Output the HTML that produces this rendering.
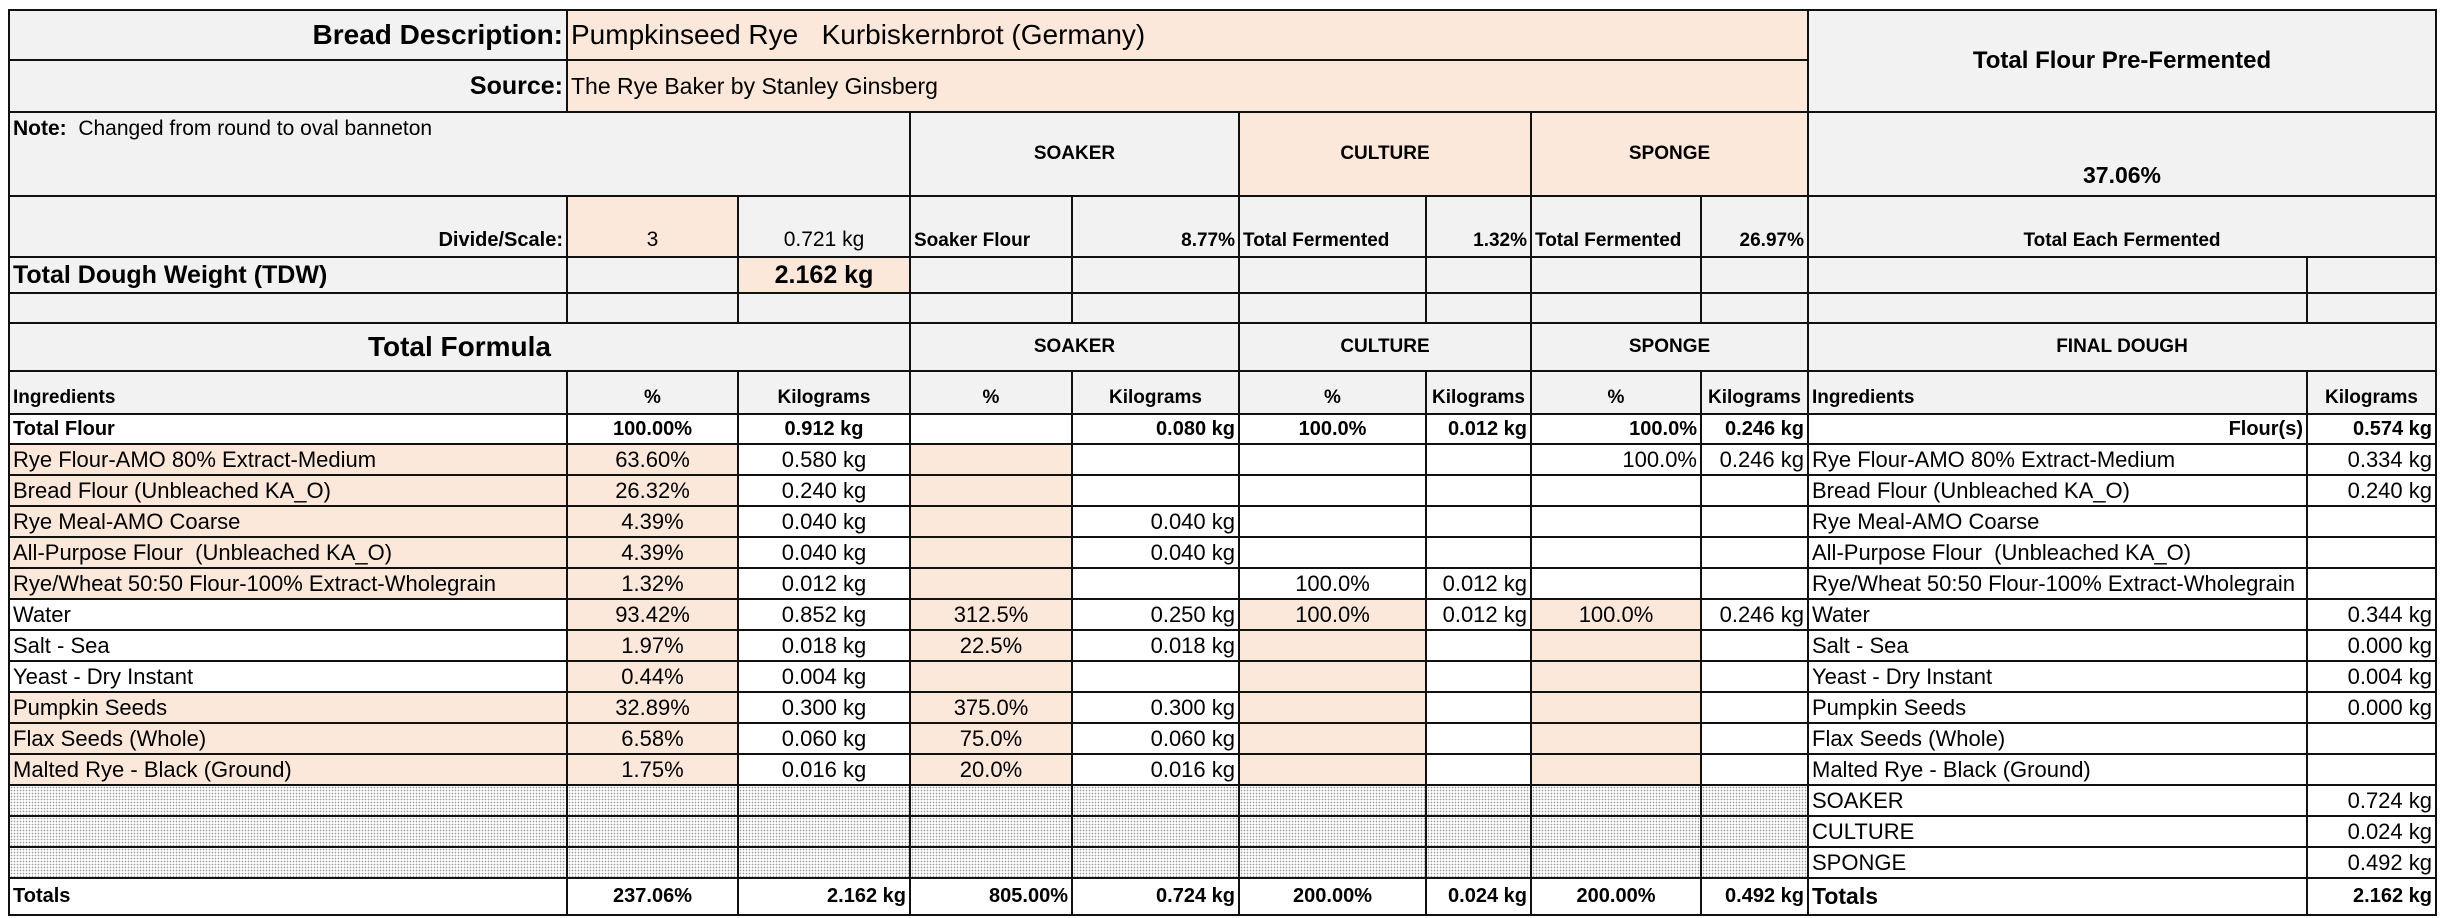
<!DOCTYPE html>
<html><head><meta charset="utf-8"><style>
html,body{margin:0;padding:0;background:#fff;width:2440px;height:918px;overflow:hidden}
table{position:absolute;left:8px;top:9px;border-collapse:collapse;table-layout:fixed;font-family:"Liberation Sans",sans-serif;font-size:22px;color:#000}
td{border:2px solid #111;padding:0 3px;white-space:nowrap;overflow:hidden;background:#fff}
.g{background:#f2f2f2}.p{background:#fce8da}
.b{font-weight:bold}.c{text-align:center}.r{text-align:right}.l{text-align:left}
.bt{vertical-align:bottom;padding-bottom:4px}
.d{background-color:#fff;background-image:radial-gradient(#9a9a9a 0.7px,transparent 0.9px);background-size:3px 3px}
.h td{font-size:19px}
.t td{font-size:20px}
</style></head><body>
<table>
<colgroup><col style="width:558px"><col style="width:171px"><col style="width:172px"><col style="width:162px"><col style="width:167px"><col style="width:187px"><col style="width:105px"><col style="width:170px"><col style="width:107px"><col style="width:499px"><col style="width:129px"></colgroup>
<tr style="height:50px"><td class="g b r" style="font-size:28px">Bread Description:</td><td class="p" colspan="8" style="font-size:28px">Pumpkinseed Rye&nbsp;&nbsp; Kurbiskernbrot (Germany)</td><td class="g b c" colspan="2" rowspan="2" style="font-size:24px">Total Flour Pre-Fermented</td></tr>
<tr style="height:52px"><td class="g b r" style="font-size:25px">Source:</td><td class="p" colspan="8" style="font-size:23px">The Rye Baker by Stanley Ginsberg</td></tr>
<tr style="height:84px"><td class="g" colspan="3" style="vertical-align:top;padding-top:4px;font-size:21px"><b>Note:</b>&nbsp; Changed from round to oval banneton</td><td class="g b c" colspan="2" style="font-size:19px">SOAKER</td><td class="p b c" colspan="2" style="font-size:19px">CULTURE</td><td class="p b c" colspan="2" style="font-size:19px">SPONGE</td><td class="g b c bt" colspan="2" style="font-size:23px;padding-bottom:6px">37.06%</td></tr>
<tr style="height:61px" class="h"><td class="g b r bt" style="font-size:20px">Divide/Scale:</td><td class="p c bt" style="font-size:21px">3</td><td class="g c bt" style="font-size:21px">0.721 kg</td><td class="g b l bt">Soaker Flour</td><td class="g b r bt">8.77%</td><td class="g b l bt">Total Fermented</td><td class="g b r bt">1.32%</td><td class="g b l bt">Total Fermented</td><td class="g b r bt">26.97%</td><td class="g b c bt" colspan="2">Total Each Fermented</td></tr>
<tr style="height:36px"><td class="g b" style="font-size:25px">Total Dough Weight (TDW)</td><td class="g"></td><td class="p b c" style="font-size:25px">2.162 kg</td><td class="g"></td><td class="g"></td><td class="g"></td><td class="g"></td><td class="g"></td><td class="g"></td><td class="g"></td><td class="g"></td></tr>
<tr style="height:30px"><td class="g"></td><td class="g"></td><td class="g"></td><td class="g"></td><td class="g"></td><td class="g"></td><td class="g"></td><td class="g"></td><td class="g"></td><td class="g"></td><td class="g"></td></tr>
<tr style="height:48px"><td class="g b c" colspan="3" style="font-size:28px">Total Formula</td><td class="g b c" colspan="2" style="font-size:19px">SOAKER</td><td class="g b c" colspan="2" style="font-size:19px">CULTURE</td><td class="g b c" colspan="2" style="font-size:19px">SPONGE</td><td class="g b c" colspan="2" style="font-size:19px">FINAL DOUGH</td></tr>
<tr style="height:43px" class="h"><td class="g b bt">Ingredients</td><td class="g b c bt">%</td><td class="g b c bt">Kilograms</td><td class="g b c bt">%</td><td class="g b c bt">Kilograms</td><td class="g b c bt">%</td><td class="g b c bt">Kilograms</td><td class="g b c bt">%</td><td class="g b c bt">Kilograms</td><td class="g b l bt">Ingredients</td><td class="g b c bt">Kilograms</td></tr>
<tr style="height:30px" class="b t"><td>Total Flour</td><td class="c">100.00%</td><td class="c">0.912 kg</td><td></td><td class="r">0.080 kg</td><td class="c">100.0%</td><td class="r">0.012 kg</td><td class="r">100.0%</td><td class="r">0.246 kg</td><td class="r">Flour(s)</td><td class="r">0.574 kg</td></tr>
<tr style="height:31px"><td class="p">Rye Flour-AMO 80% Extract-Medium</td><td class="p c">63.60%</td><td class="c">0.580 kg</td><td class="p"></td><td></td><td></td><td></td><td class="r">100.0%</td><td class="r">0.246 kg</td><td>Rye Flour-AMO 80% Extract-Medium</td><td class="r">0.334 kg</td></tr>
<tr style="height:31px"><td class="p">Bread Flour (Unbleached KA_O)</td><td class="p c">26.32%</td><td class="c">0.240 kg</td><td class="p"></td><td></td><td></td><td></td><td></td><td></td><td>Bread Flour (Unbleached KA_O)</td><td class="r">0.240 kg</td></tr>
<tr style="height:31px"><td class="p">Rye Meal-AMO Coarse</td><td class="p c">4.39%</td><td class="c">0.040 kg</td><td class="p"></td><td class="r">0.040 kg</td><td></td><td></td><td></td><td></td><td>Rye Meal-AMO Coarse</td><td></td></tr>
<tr style="height:31px"><td class="p">All-Purpose Flour&nbsp; (Unbleached KA_O)</td><td class="p c">4.39%</td><td class="c">0.040 kg</td><td class="p"></td><td class="r">0.040 kg</td><td></td><td></td><td></td><td></td><td>All-Purpose Flour&nbsp; (Unbleached KA_O)</td><td></td></tr>
<tr style="height:31px"><td class="p">Rye/Wheat 50:50 Flour-100% Extract-Wholegrain</td><td class="p c">1.32%</td><td class="c">0.012 kg</td><td class="p"></td><td></td><td class="c">100.0%</td><td class="r">0.012 kg</td><td></td><td></td><td>Rye/Wheat 50:50 Flour-100% Extract-Wholegrain</td><td></td></tr>
<tr style="height:31px"><td>Water</td><td class="p c">93.42%</td><td class="c">0.852 kg</td><td class="p c">312.5%</td><td class="r">0.250 kg</td><td class="p c">100.0%</td><td class="r">0.012 kg</td><td class="p c">100.0%</td><td class="r">0.246 kg</td><td>Water</td><td class="r">0.344 kg</td></tr>
<tr style="height:31px"><td>Salt - Sea</td><td class="p c">1.97%</td><td class="c">0.018 kg</td><td class="p c">22.5%</td><td class="r">0.018 kg</td><td class="p"></td><td></td><td class="p"></td><td></td><td>Salt - Sea</td><td class="r">0.000 kg</td></tr>
<tr style="height:31px"><td>Yeast - Dry Instant</td><td class="p c">0.44%</td><td class="c">0.004 kg</td><td class="p"></td><td></td><td class="p"></td><td></td><td class="p"></td><td></td><td>Yeast - Dry Instant</td><td class="r">0.004 kg</td></tr>
<tr style="height:31px"><td class="p">Pumpkin Seeds</td><td class="p c">32.89%</td><td class="c">0.300 kg</td><td class="p c">375.0%</td><td class="r">0.300 kg</td><td class="p"></td><td></td><td class="p"></td><td></td><td>Pumpkin Seeds</td><td class="r">0.000 kg</td></tr>
<tr style="height:31px"><td class="p">Flax Seeds (Whole)</td><td class="p c">6.58%</td><td class="c">0.060 kg</td><td class="p c">75.0%</td><td class="r">0.060 kg</td><td class="p"></td><td></td><td class="p"></td><td></td><td>Flax Seeds (Whole)</td><td></td></tr>
<tr style="height:31px"><td class="p">Malted Rye - Black (Ground)</td><td class="p c">1.75%</td><td class="c">0.016 kg</td><td class="p c">20.0%</td><td class="r">0.016 kg</td><td class="p"></td><td></td><td class="p"></td><td></td><td>Malted Rye - Black (Ground)</td><td></td></tr>
<tr style="height:31px"><td class="d"></td><td class="d"></td><td class="d"></td><td class="d"></td><td class="d"></td><td class="d"></td><td class="d"></td><td class="d"></td><td class="d"></td><td>SOAKER</td><td class="r">0.724 kg</td></tr>
<tr style="height:31px"><td class="d"></td><td class="d"></td><td class="d"></td><td class="d"></td><td class="d"></td><td class="d"></td><td class="d"></td><td class="d"></td><td class="d"></td><td>CULTURE</td><td class="r">0.024 kg</td></tr>
<tr style="height:31px"><td class="d"></td><td class="d"></td><td class="d"></td><td class="d"></td><td class="d"></td><td class="d"></td><td class="d"></td><td class="d"></td><td class="d"></td><td>SPONGE</td><td class="r">0.492 kg</td></tr>
<tr style="height:37px" class="b t"><td>Totals</td><td class="c">237.06%</td><td class="r">2.162 kg</td><td class="r">805.00%</td><td class="r">0.724 kg</td><td class="c">200.00%</td><td class="r">0.024 kg</td><td class="c">200.00%</td><td class="r">0.492 kg</td><td style="font-size:23px">Totals</td><td class="r">2.162 kg</td></tr>
</table>
</body></html>
